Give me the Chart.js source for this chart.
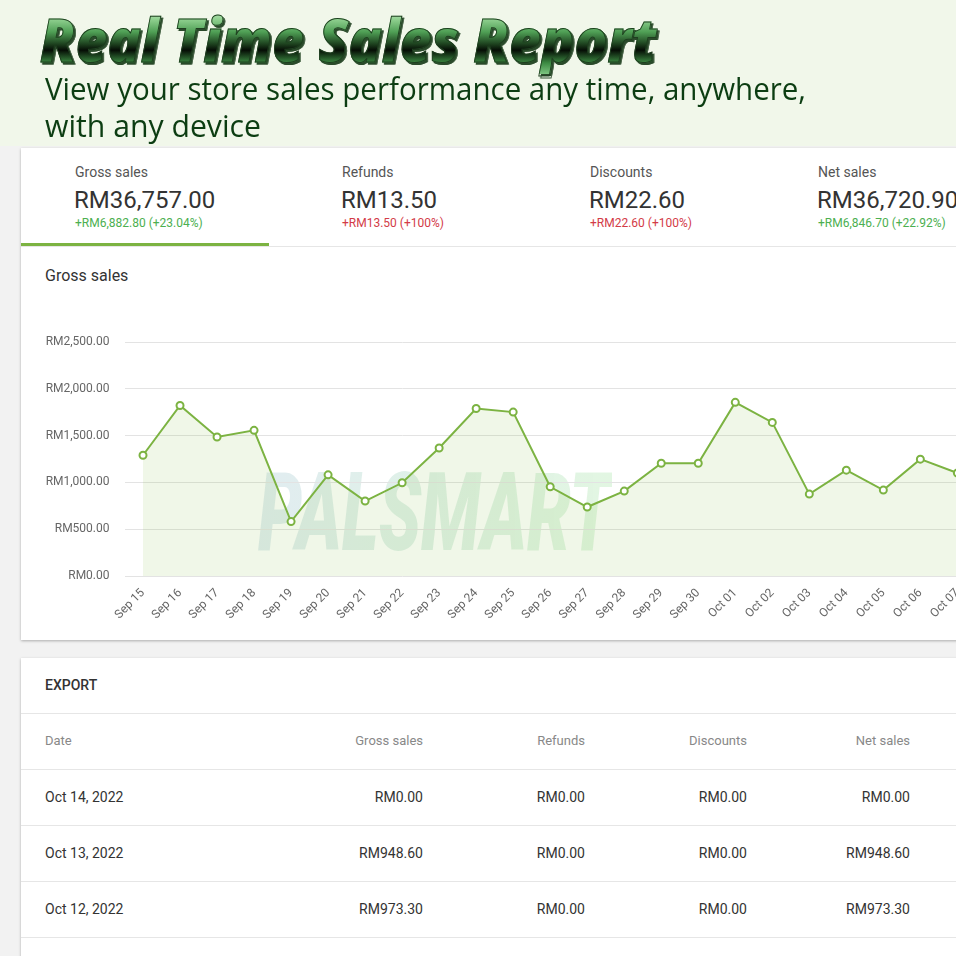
<!DOCTYPE html>
<html>
<head>
<meta charset="utf-8">
<script src="https://cdn.jsdelivr.net/npm/chart.js@4.4.1/dist/chart.umd.min.js"></script>
<style>
html,body{margin:0;padding:0;width:956px;height:956px;overflow:hidden;background:#f2f2f2;font-family:Roboto,"Noto Sans",sans-serif;}
#hdr{position:absolute;left:0;top:0;width:956px;height:146px;background:#f1f7ea;}
.fit{position:absolute;white-space:nowrap;transform-origin:0 0;}
#title{left:40px;top:4px;font-family:"Open Sans",sans-serif;font-weight:800;font-style:italic;font-size:60px;line-height:70px;
  background:linear-gradient(180deg,#e4f5e0 0%,#8fd08f 22%,#4f9f55 40%,#1b3d1c 58%,#050d05 66%,#3c8a42 84%,#7cc37f 100%);
  -webkit-background-clip:text;background-clip:text;color:transparent;-webkit-text-stroke:1px #1e3f1f;
  filter:drop-shadow(2px 2px 0 #2a4a2a);}
.sub{left:45px;font-family:"Open Sans",sans-serif;font-size:31px;line-height:38px;color:#0c3d12;}
.card{position:absolute;left:21px;width:1320px;background:#fff;box-shadow:0 1px 3px rgba(0,0,0,0.18),0 1px 2px rgba(0,0,0,0.12);}
.t{position:absolute;white-space:nowrap;}
.lbl{font-size:14px;line-height:18px;color:#555;}
.val{font-size:24px;line-height:30px;color:#333;}
.chg{font-size:12px;line-height:16px;}
.g{color:#4caf50;} .r{color:#d33b47;}
.hr{position:absolute;left:0;width:1320px;height:1px;background:#e6e6e6;}
.th{font-size:13px;line-height:18px;color:#888;}
.td{font-size:14px;line-height:18px;color:#333;}
.ra{text-align:right;}
#wm{position:absolute;left:237px;top:300px;font-family:Roboto,sans-serif;font-weight:900;font-style:italic;font-size:110px;line-height:130px;
  background:linear-gradient(90deg,rgba(120,170,190,0.22) 0%,rgba(110,190,150,0.22) 45%,rgba(110,210,110,0.20) 100%);
  -webkit-background-clip:text;background-clip:text;color:transparent;white-space:nowrap;transform-origin:0 0;}
#cw{position:absolute;left:0;top:142px;width:1240px;height:350px;}
</style>
</head>
<body>
<div id="hdr">
  <div id="title" class="fit" data-w="617">Real Time Sales Report</div>
  <div class="fit sub" style="top:69px" data-w="761">View your store sales performance any time, anywhere,</div>
  <div class="fit sub" style="top:106px" data-w="216">with any device</div>
</div>

<div class="card" id="c1" style="top:148px;height:492px;">
  <div id="kpis"></div>
  <div style="position:absolute;left:0;top:95px;width:248px;height:3px;background:#7cb342;"></div>
  <div class="hr" style="top:98px;"></div>
  <div class="t" style="left:24px;top:118px;font-size:16px;line-height:20px;color:#333;">Gross sales</div>
  <div id="wm" class="fit" data-w="354">PALSMART</div>
  <div id="cw"><canvas id="chart"></canvas></div>
</div>

<div class="card" id="c2" style="top:658px;height:320px;">
  <div class="t" style="left:24px;top:18px;font-size:14px;line-height:18px;color:#333;font-weight:500;">EXPORT</div>
  <div id="tbl"></div>
</div>

<script>
// ---- data ----
const dates = ["Sep 15","Sep 16","Sep 17","Sep 18","Sep 19","Sep 20","Sep 21","Sep 22","Sep 23","Sep 24","Sep 25","Sep 26","Sep 27","Sep 28","Sep 29","Sep 30","Oct 01","Oct 02","Oct 03","Oct 04","Oct 05","Oct 06","Oct 07","Oct 08","Oct 09","Oct 10","Oct 11","Oct 12","Oct 13","Oct 14"];
const grossSales = [1290,1822,1485,1556,581,1081,801,996,1368,1790,1751,953,737,907,1205,1205,1855,1641,875,1131,918,1248,1101,null,null,null,null,973.3,948.6,0];
const yTicks = [0,500,1000,1500,2000,2500];

const kpiNames = ["Gross sales","Refunds","Discounts","Net sales"];
const kpiValues = ["RM36,757.00","RM13.50","RM22.60","RM36,720.90"];
const kpiChanges = ["+RM6,882.80 (+23.04%)","+RM13.50 (+100%)","+RM22.60 (+100%)","+RM6,846.70 (+22.92%)"];
const kpiGood = [true,false,false,true];

const tableCols = ["Date","Gross sales","Refunds","Discounts","Net sales"];
const tableDates = ["Oct 14, 2022","Oct 13, 2022","Oct 12, 2022"];
const tableGross = ["RM0.00","RM948.60","RM973.30"];
const tableRefunds = ["RM0.00","RM0.00","RM0.00"];
const tableDiscounts = ["RM0.00","RM0.00","RM0.00"];
const tableNet = ["RM0.00","RM948.60","RM973.30"];

// ---- KPI tabs ----
const kpiX = [54,321,569,797];
let kh = "";
kpiNames.forEach((n,i)=>{
  kh += `<div class="t lbl" style="left:${kpiX[i]}px;top:15px">${n}</div>`;
  kh += `<div class="t val" style="left:${kpiX[i]-1}px;top:37px">${kpiValues[i]}</div>`;
  kh += `<div class="t chg ${kpiGood[i]?'g':'r'}" style="left:${kpiX[i]}px;top:67px">${kpiChanges[i]}</div>`;
});
document.getElementById('kpis').innerHTML = kh;

// ---- table ----
const colRight = [null,402,564,726,889];
let th = "";
tableCols.forEach((c,i)=>{
  if(i===0) th += `<div class="t th" style="left:24px;top:74px">${c}</div>`;
  else th += `<div class="t th ra" style="right:${1320-colRight[i]}px;top:74px">${c}</div>`;
});
[55,111,167,223,279].forEach(y=>{ th += `<div class="hr" style="top:${y}px"></div>`; });
const cols = [tableGross,tableRefunds,tableDiscounts,tableNet];
tableDates.forEach((d,r)=>{
  const y = 130 + r*56;
  th += `<div class="t td" style="left:24px;top:${y}px">${d}</div>`;
  cols.forEach((col,ci)=>{
    th += `<div class="t td ra" style="right:${1320-colRight[ci+1]}px;top:${y}px">${col[r]}</div>`;
  });
});
document.getElementById('tbl').innerHTML = th;

// ---- fit text widths ----
function fitAll(){
  document.querySelectorAll('.fit').forEach(el=>{
    el.style.transform='none';
    const w = el.getBoundingClientRect().width;
    const target = +el.dataset.w;
    if(w>0) el.style.transform = `scaleX(${target/w})`;
  });
}
fitAll();
if(document.fonts && document.fonts.ready) document.fonts.ready.then(fitAll);

// ---- chart ----
const fmt = v => 'RM' + Number(v).toLocaleString('en-US',{minimumFractionDigits:2,maximumFractionDigits:2});
new Chart(document.getElementById('chart'),{
  type:'line',
  data:{labels:dates,datasets:[{
    label:'Gross sales',
    data:grossSales,
    borderColor:'#7cb342',
    borderWidth:2,
    backgroundColor:'rgba(139,195,74,0.13)',
    fill:'origin',
    tension:0,
    pointRadius:3.5,
    pointBorderWidth:2,
    pointBackgroundColor:'#ffffff',
    pointBorderColor:'#7cb342'
  }]},
  options:{
    responsive:true,maintainAspectRatio:false,animation:false,
    layout:{padding:{top:52,right:26,left:0,bottom:0}},
    plugins:{legend:{display:false},tooltip:{enabled:false}},
    scales:{
      x:{
        offset:true,
        grid:{display:false},
        border:{display:false},
        afterFit:s=>{s.height=64;},
        ticks:{minRotation:45,maxRotation:45,autoSkip:false,padding:2,color:'#666',font:{family:'Roboto',size:12}}
      },
      y:{
        min:0,max:2500,
        afterFit:s=>{s.width=103.5;},
        afterBuildTicks:s=>{s.ticks = yTicks.map(v=>({value:v}));},
        grid:{color:'#e3e3e3',drawTicks:false,lineWidth:1},
        border:{display:false},
        ticks:{padding:15,color:'#666',font:{family:'Roboto',size:12},callback:v=>fmt(v)}
      }
    }
  }
});
</script>
</body>
</html>
